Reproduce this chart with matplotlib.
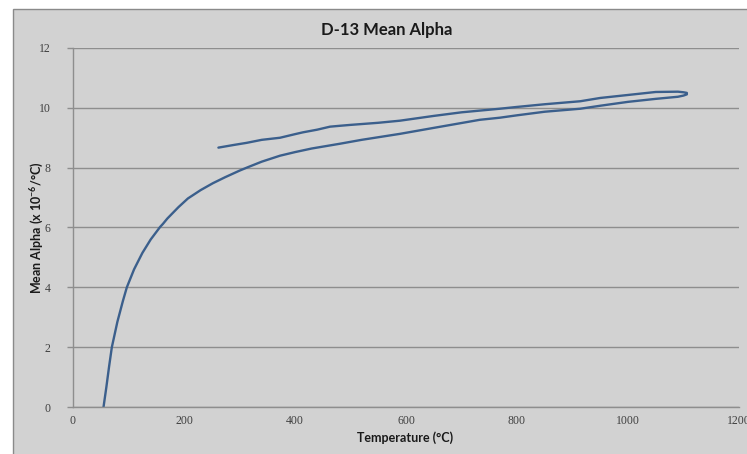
import matplotlib
matplotlib.use("Agg")
import matplotlib.pyplot as plt
from matplotlib.patches import Rectangle

# Heating branch (lower curve)
temp_heat = [55, 60, 65, 70, 80, 90, 97, 110, 125, 140, 157, 162, 170, 190, 207, 230,
             252, 274, 300, 313, 340, 373, 400, 430, 481, 520, 589, 650, 733, 769, 800, 850,
             914, 950, 1000, 1050, 1090, 1100, 1106]
alpha_heat = [0, 0.65, 1.35, 2.0, 2.85, 3.55, 4.0, 4.6, 5.15, 5.6, 6.02, 6.12, 6.3, 6.68,
              6.97, 7.25, 7.48, 7.68, 7.9, 8.0, 8.2, 8.4, 8.52, 8.64, 8.8, 8.93, 9.13, 9.33,
              9.6, 9.67, 9.75, 9.87, 9.97, 10.07, 10.2, 10.3, 10.37, 10.41, 10.45]
# Cooling branch (upper curve)
temp_cool = [1106, 1100, 1090, 1050, 1000, 950, 914, 850, 800, 769, 700, 650, 589, 550,
             500, 481, 463, 440, 414, 400, 373, 340, 313, 290, 262]
alpha_cool = [10.5, 10.52, 10.54, 10.53, 10.43, 10.33, 10.22, 10.12, 10.03, 9.97, 9.85,
              9.73, 9.57, 9.5, 9.43, 9.4, 9.37, 9.27, 9.18, 9.12, 9.0, 8.93, 8.83, 8.76, 8.67]

x_ticks = [0, 200, 400, 600, 800, 1000, 1200]
y_ticks = [0, 2, 4, 6, 8, 10, 12]

W, H = 747, 454
fig = plt.figure(figsize=(W / 100, H / 100), dpi=100)
fig.patch.set_facecolor("white")
bg = "#d2d2d2"

bgax = fig.add_axes([0, 0, 1, 1], zorder=-5)
bgax.set_axis_off()
bgax.set_xlim(0, 1)
bgax.set_ylim(0, 1)
bgax.add_patch(Rectangle((13 / W, -0.01), 1 - 13 / W + 0.02, 1 - 9 / H + 0.01,
                         facecolor=bg, edgecolor="#8a8a8a", linewidth=1.0))

ax = fig.add_axes([73 / W, (H - 407) / H, (739 - 73) / W, (407 - 48) / H])
ax.set_facecolor(bg)
ax.set_xlim(0, 1200)
ax.set_ylim(0, 12)
ax.set_xticks(x_ticks)
ax.set_yticks(y_ticks)

line_color = "#3b5f8c"
ax.plot(temp_heat + temp_cool, alpha_heat + alpha_cool, color=line_color,
        linewidth=1.7, solid_joinstyle="round", solid_capstyle="round")

ax.grid(axis="y", color="#8e8e8e", linewidth=1.0)
ax.set_axisbelow(True)
for s in ["top", "right"]:
    ax.spines[s].set_visible(False)
for s in ["left", "bottom"]:
    ax.spines[s].set_color("#8e8e8e")
    ax.spines[s].set_linewidth(1.0)
ax.tick_params(axis="both", colors="#8e8e8e", length=4, width=1,
               labelcolor="#404040", labelsize=8.5)
for lab in ax.get_xticklabels() + ax.get_yticklabels():
    lab.set_fontfamily("Liberation Serif")
ax.tick_params(axis="x", length=0, pad=6)
ax.tick_params(axis="y", pad=12)

fig.text(387 / W, 1 - 30 / H, "D-13 Mean Alpha", ha="center", va="center",
         fontsize=12, fontweight="bold", family=["Lato", "DejaVu Sans"], color="#1a1a1a")
fig.text(405 / W, 1 - 438 / H, "Temperature (°C)", ha="center", va="center",
         fontsize=9, fontweight="bold", family=["Lato", "DejaVu Sans"], color="#1a1a1a")
fig.text(37 / W, 1 - 228 / H, r"Mean Alpha (x 10$^{\mathregular{-6}}$/°C)", ha="center",
         va="center", rotation=90, fontsize=9, fontweight="bold",
         family=["Lato", "DejaVu Sans"], color="#1a1a1a")

fig.savefig("out.png", dpi=100, facecolor=fig.get_facecolor())
